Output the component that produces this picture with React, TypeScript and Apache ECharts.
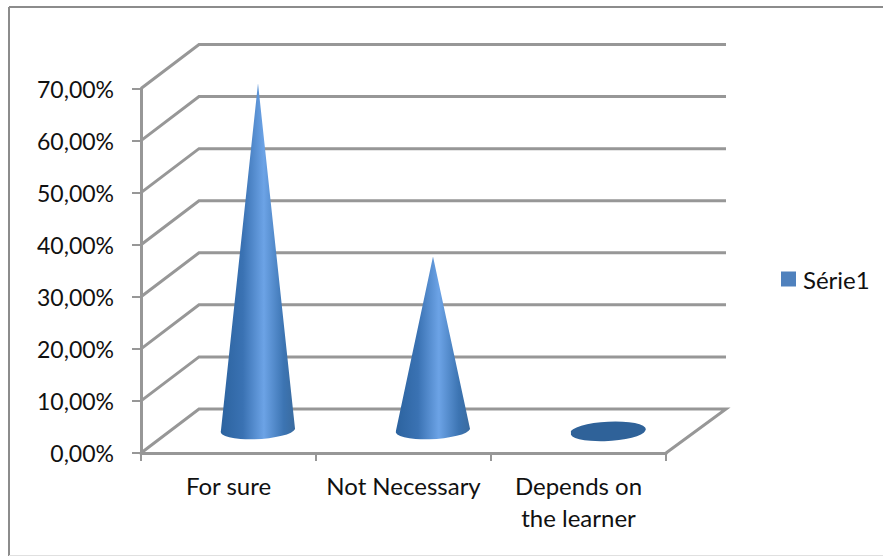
import React, { useEffect, useRef } from "react";
import * as echarts from "echarts";

const categories = ["For sure", "Not Necessary", "Depends on\nthe learner"];
const seriesName = "Série1";
const seriesValues = [66.8, 33.5, 0.7];
const yTicks = [0, 10, 20, 30, 40, 50, 60, 70];

const GRAY = "#979797";
const DEPTH_X = 58;
const DEPTH_Y = -44;
const TILT = -3 * Math.PI / 180;

function wallLines(params: any, api: any) {
  const cs = params.coordSys;
  const v = api.value(1);
  const p = api.coord([0, v]);
  const x0 = cs.x;
  const x1 = cs.x + cs.width;
  const y = p[1];
  const pts: number[][] = [[x0, y], [x0 + DEPTH_X, y + DEPTH_Y], [x1 + DEPTH_X + 2, y + DEPTH_Y]];
  if (v === 0) pts.push([x1, y]);
  return {
    type: "polyline",
    shape: { points: pts },
    style: { stroke: GRAY, lineWidth: 3, fill: "none" },
  };
}

function cone(params: any, api: any) {
  const idx = api.value(0);
  const v = api.value(1);
  const base = api.coord([idx, 0]);
  const tip = api.coord([idx, v]);
  const rx = api.size([1, 0])[0] * 0.212;
  const ry = 9;
  const cx = base[0] + DEPTH_X / 2 + 0.5;
  const cy = base[1] + DEPTH_Y / 2;
  const tipY = tip[1] + DEPTH_Y / 2;
  const dy = rx * Math.sin(TILT);
  const dx = rx * Math.cos(TILT);
  const deg = (TILT * 180) / Math.PI;
  const flat = cy - tipY < rx;
  if (flat) {
    return {
      type: "path",
      shape: {
        pathData: `M ${cx - dx} ${cy - dy} A ${rx} ${ry} ${deg} 1 0 ${cx + dx} ${cy + dy} A ${rx} ${ry} ${deg} 1 0 ${cx - dx} ${cy - dy} Z`,
      },
      style: { fill: "#2f6299" },
    };
  }
  const pathData = `M ${cx} ${tipY} L ${cx + dx} ${cy + dy} A ${rx} ${ry} ${deg} 1 1 ${cx - dx} ${cy - dy} Z`;
  return {
    type: "path",
    shape: { pathData },
    style: {
      fill: new echarts.graphic.LinearGradient(0, 0, 1, 0, [
        { offset: 0, color: "#2c639f" },
        { offset: 0.3, color: "#3a72b3" },
        { offset: 0.58, color: "#6ca3e6" },
        { offset: 0.85, color: "#3c74b2" },
        { offset: 1, color: "#3a6b9f" },
      ]),
    },
  };
}

export default function App() {
  const ref = useRef<HTMLDivElement>(null);
  useEffect(() => {
    const chart = echarts.init(ref.current!, null, { renderer: "svg" });
    const font = "Lato, Carlito, sans-serif";
    chart.setOption({
      animation: false,
      backgroundColor: "#ffffff",
      textStyle: { fontFamily: font },
      grid: { left: 141, top: 88.5, width: 525, height: 364.5, containLabel: false },
      legend: {
        data: [{ name: seriesName, icon: "rect" }],
        left: 781,
        top: 267,
        padding: 0,
        itemWidth: 15,
        itemHeight: 15,
        itemGap: 7,
        textStyle: { fontFamily: font, fontSize: 24, color: "#111111", padding: [0, 0, 0, 2] },
      },
      xAxis: {
        type: "category",
        data: categories,
        axisLine: { lineStyle: { color: GRAY, width: 3 } },
        axisTick: { show: true, length: 8, alignWithLabel: false, lineStyle: { color: GRAY, width: 2 } },
        axisLabel: { fontFamily: font, fontSize: 24, color: "#111111", margin: 16, lineHeight: 32, interval: 0 },
        splitLine: { show: false },
      },
      yAxis: {
        type: "value",
        min: 0,
        max: 70,
        interval: 10,
        axisLine: { show: true, lineStyle: { color: GRAY, width: 3 } },
        axisTick: { show: true, length: 9, lineStyle: { color: GRAY, width: 2 } },
        axisLabel: {
          fontFamily: font,
          fontSize: 23,
          color: "#111111",
          margin: 27,
          formatter: (v: number) => v.toFixed(2).replace(".", ",") + "%",
        },
        splitLine: { show: false },
      },
      series: [
        {
          type: "custom",
          name: "walls",
          renderItem: wallLines,
          data: yTicks.map((t) => [0, t]),
          encode: { x: 0, y: 1 },
          silent: true,
          z: 1,
        },
        {
          type: "custom",
          name: seriesName,
          renderItem: cone,
          data: seriesValues.map((v, i) => [i, v]),
          encode: { x: 0, y: 1 },
          itemStyle: { color: "#4f81bd" },
          z: 3,
        },
      ],
      graphic: [
        { type: "line", shape: { x1: 9, y1: 7, x2: 883, y2: 7 }, style: { stroke: "#8c8c8c", lineWidth: 2 } },
        { type: "line", shape: { x1: 9, y1: 7, x2: 9, y2: 556 }, style: { stroke: "#8c8c8c", lineWidth: 2 } },
        { type: "line", shape: { x1: 9, y1: 555.5, x2: 883, y2: 555.5 }, style: { stroke: "#e0e0e0", lineWidth: 1 } },
      ],
    });
    return () => chart.dispose();
  }, []);
  return <div ref={ref} style={{ position: "fixed", left: 0, top: 0, width: 883, height: 556 }} />;
}
